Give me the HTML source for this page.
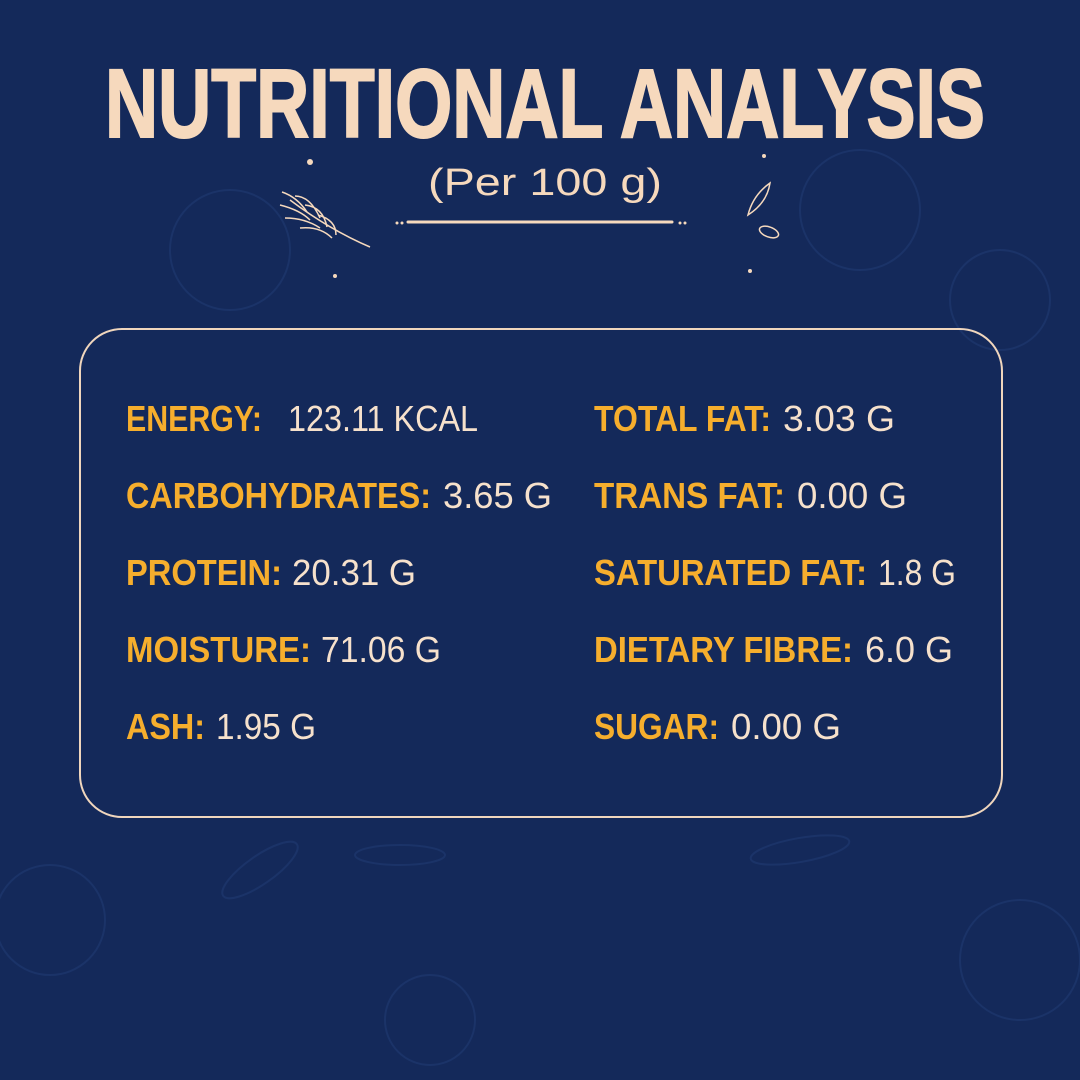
<!DOCTYPE html>
<html><head><meta charset="utf-8"><style>
html,body{margin:0;padding:0;background:#14295a;}
svg{display:block}
</style></head><body>
<svg width="1080" height="1080" viewBox="0 0 1080 1080" xmlns="http://www.w3.org/2000/svg">
<rect width="1080" height="1080" fill="#14295a"/>
<g fill="none" stroke="#24407a" stroke-width="2" opacity="0.45">
<circle cx="230" cy="250" r="60"/><circle cx="860" cy="210" r="60"/><circle cx="1000" cy="300" r="50"/>
<circle cx="50" cy="920" r="55"/><circle cx="430" cy="1020" r="45"/><circle cx="1020" cy="960" r="60"/>
<ellipse cx="260" cy="870" rx="45" ry="14" transform="rotate(-35 260 870)"/>
<ellipse cx="800" cy="850" rx="50" ry="12" transform="rotate(-10 800 850)"/>
<ellipse cx="400" cy="855" rx="45" ry="10"/>
</g>
<text x="105" y="137" font-family="Liberation Sans, sans-serif" font-weight="bold" font-size="97" fill="#f6d9bd" stroke="#f6d9bd" stroke-width="2" textLength="880" lengthAdjust="spacingAndGlyphs">NUTRITIONAL ANALYSIS</text>
<text x="428" y="195" font-family="Liberation Sans, sans-serif" font-size="38" fill="#f6d9bd" textLength="234" lengthAdjust="spacingAndGlyphs">(Per 100 g)</text>
<line x1="408" y1="222" x2="672" y2="222" stroke="#f6d9bd" stroke-width="3" stroke-linecap="round"/>
<circle cx="397" cy="223" r="1.5" fill="#f6d9bd"/><circle cx="402" cy="223" r="1.5" fill="#f6d9bd"/>
<circle cx="680" cy="223" r="1.5" fill="#f6d9bd"/><circle cx="685" cy="223" r="1.5" fill="#f6d9bd"/>
<circle cx="310" cy="162" r="3" fill="#f6d9bd"/><circle cx="764" cy="156" r="2" fill="#f6d9bd"/>
<circle cx="750" cy="271" r="2" fill="#f6d9bd"/><circle cx="335" cy="276" r="2" fill="#f6d9bd"/>
<g fill="none" stroke="#f6d9bd" stroke-width="1.5">
<path d="M290 200 Q330 230 370 247"/>
<path d="M282 192 q15 5 25 20 M295 196 q15 0 25 22 M305 205 q18 2 22 22 M318 215 q18 5 18 20 M280 205 q20 5 30 15 M285 218 q20 0 35 10 M300 228 q20 -2 32 10"/>
<path d="M748 215 q5 -20 22 -32 q-3 20 -22 32z"/>
<ellipse cx="769" cy="232" rx="10" ry="5" transform="rotate(20 769 232)"/>
</g>
<rect x="80" y="329" width="922" height="488" rx="42" fill="none" stroke="#f0d6bd" stroke-width="2"/>
<g font-family="Liberation Sans, sans-serif" font-size="36">
<g font-weight="bold" fill="#f6ae2d">
<text x="126" y="431" textLength="136" lengthAdjust="spacingAndGlyphs">ENERGY:</text>
<text x="126" y="508" textLength="305" lengthAdjust="spacingAndGlyphs">CARBOHYDRATES:</text>
<text x="126" y="585" textLength="156" lengthAdjust="spacingAndGlyphs">PROTEIN:</text>
<text x="126" y="662" textLength="185" lengthAdjust="spacingAndGlyphs">MOISTURE:</text>
<text x="126" y="739" textLength="79" lengthAdjust="spacingAndGlyphs">ASH:</text>
<text x="594" y="431" textLength="177" lengthAdjust="spacingAndGlyphs">TOTAL FAT:</text>
<text x="594" y="508" textLength="191" lengthAdjust="spacingAndGlyphs">TRANS FAT:</text>
<text x="594" y="585" textLength="273" lengthAdjust="spacingAndGlyphs">SATURATED FAT:</text>
<text x="594" y="662" textLength="259" lengthAdjust="spacingAndGlyphs">DIETARY FIBRE:</text>
<text x="594" y="739" textLength="125" lengthAdjust="spacingAndGlyphs">SUGAR:</text>
</g>
<g fill="#f6e1cc">
<text x="288" y="431" textLength="190" lengthAdjust="spacingAndGlyphs">123.11 KCAL</text>
<text x="443" y="508" textLength="109" lengthAdjust="spacingAndGlyphs">3.65 G</text>
<text x="292" y="585" textLength="124" lengthAdjust="spacingAndGlyphs">20.31 G</text>
<text x="321" y="662" textLength="120" lengthAdjust="spacingAndGlyphs">71.06 G</text>
<text x="216" y="739" textLength="100" lengthAdjust="spacingAndGlyphs">1.95 G</text>
<text x="783" y="431" textLength="112" lengthAdjust="spacingAndGlyphs">3.03 G</text>
<text x="797" y="508" textLength="110" lengthAdjust="spacingAndGlyphs">0.00 G</text>
<text x="878" y="585" textLength="78" lengthAdjust="spacingAndGlyphs">1.8 G</text>
<text x="865" y="662" textLength="88" lengthAdjust="spacingAndGlyphs">6.0 G</text>
<text x="731" y="739" textLength="110" lengthAdjust="spacingAndGlyphs">0.00 G</text>
</g>
</g>
</svg>
</body></html>
